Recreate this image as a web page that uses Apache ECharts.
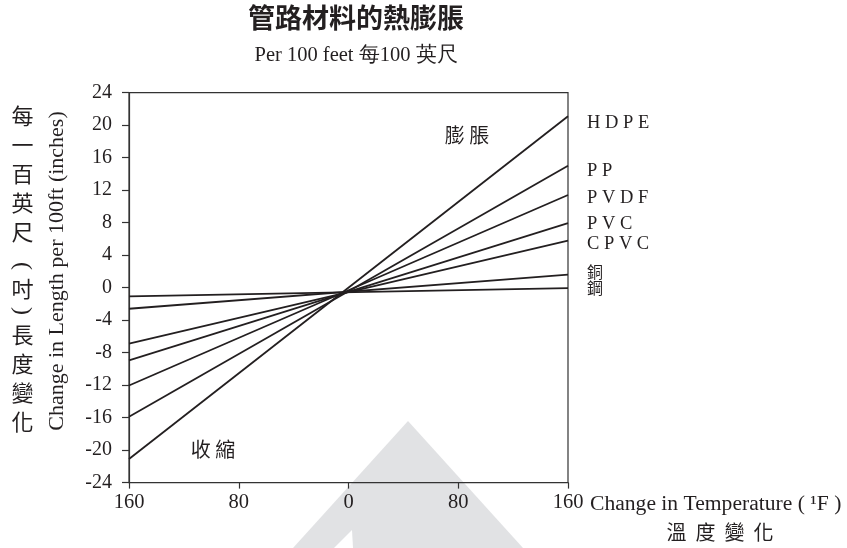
<!DOCTYPE html>
<html><head><meta charset="utf-8">
<script src="https://cdn.jsdelivr.net/npm/echarts@6/dist/echarts.min.js"></script>
<style>html,body{margin:0;padding:0;background:#fff}#c{width:847px;height:548px}</style>
</head><body><div id="c"></div>
<script>
const materials = ['HDPE', 'PP', 'PVDF', 'PVC', 'CPVC', '銅', '鋼'];
const materialLabels = ['H D P E', 'P P', 'P V D F', 'P V C', 'C P V C', '銅', '鋼'];
const tempStart = -160;
const tempEnd = 160;
const changeAtStart = [-21.1, -15.9, -12.05, -8.95, -6.9, -2.6, -1.07];
const changeAtEnd = [21.1, 15.0, 11.4, 7.95, 5.8, 1.6, -0.05];
const labelShiftY = [6.7, 5.7, 2.7, 0.7, 4, -2.3, 0.3];
const xTickLabels = ['160', '80', '0', '80', '160'];
const titleText = '管路材料的熱膨脹';
const subtitleText = 'Per 100 feet 每100 英尺';
const yNameCjk = ['每', '一', '百', '英', '尺', '(', '吋', ')', '長', '度', '變', '化'];

const SERIF = '"Liberation Serif","Times New Roman",serif';
const CJK = '"Noto Sans CJK TC","Noto Sans CJK SC",sans-serif';
const INK = '#231f20';
const AX = '#333';

const chart = echarts.init(document.getElementById('c'), null, {renderer: 'canvas'});

const series = materials.map((m, i) => {
  const cjk = /[\u4e00-\u9fff]/.test(m);
  return {
    name: m,
    type: 'line',
    symbol: 'none',
    silent: true,
    z: 3,
    lineStyle: {color: INK, width: 1.8},
    data: [[tempStart, changeAtStart[i]], [tempEnd, changeAtEnd[i]]],
    endLabel: {
      show: true,
      formatter: () => materialLabels[i],
      distance: 19,
      offset: [0, labelShiftY[i]],
      color: INK,
      fontFamily: cjk ? CJK : SERIF,
      fontSize: cjk ? 16 : 18.5
    }
  };
});

const columnY = [116, 145, 174, 203, 232, 266, 289, 311, 335, 364, 393, 422];
const cjkColumn = yNameCjk.map((ch, i) => {
  const paren = ch === '(' || ch === ')';
  return {
    type: 'text', x: 22.5, y: columnY[i],
    rotation: paren ? -Math.PI / 2 : 0,
    style: {text: ch, font: (paren ? '24px ' + SERIF : '22px ' + CJK), fill: INK, textAlign: 'center', textVerticalAlign: 'middle'}
  };
});

const option = {
  animation: false,
  backgroundColor: '#fff',
  grid: {left: 129, right: 279, top: 92.7, bottom: 65.4, show: true, borderColor: AX, borderWidth: 1.2, backgroundColor: 'transparent'},
  xAxis: {
    type: 'value', min: tempStart, max: tempEnd, interval: 80,
    axisLine: {show: true, onZero: false, lineStyle: {color: AX, width: 1.2}},
    axisTick: {show: true, length: 6, lineStyle: {color: AX, width: 1.2}},
    splitLine: {show: false},
    axisLabel: {
      color: INK, fontFamily: SERIF, fontSize: 20.5, margin: 10,
      formatter: v => xTickLabels[Math.round((v - tempStart) / 80)]
    },
    name: 'Change in Temperature ( ¹F )',
    nameLocation: 'end', nameGap: 22,
    nameTextStyle: {color: INK, fontFamily: SERIF, fontSize: 21.6, verticalAlign: 'top', padding: [11, 0, 0, 0]}
  },
  yAxis: {
    type: 'value', min: -24, max: 24, interval: 4,
    axisLine: {show: true, onZero: false, lineStyle: {color: AX, width: 1.2}},
    axisTick: {show: true, length: 7, lineStyle: {color: AX, width: 1.2}},
    splitLine: {show: false},
    axisLabel: {color: INK, fontFamily: SERIF, fontSize: 20, margin: 17}
  },
  graphic: [
    {type: 'polygon', z: -10, silent: true, shape: {points: [[293, 548], [408, 421], [523, 548]]}, style: {fill: '#e1e2e4'}},
    {type: 'polygon', z: -9, silent: true, shape: {points: [[352, 530], [334, 548], [353, 548]]}, style: {fill: '#fff'}},
    {type: 'text', x: 356, y: 18, style: {text: titleText, font: 'bold 27px ' + CJK, fill: INK, textAlign: 'center', textVerticalAlign: 'middle'}},
    {type: 'text', x: 356, y: 56, style: {text: subtitleText, font: '20.5px ' + SERIF, fill: INK, textAlign: 'center', textVerticalAlign: 'middle'}},
    {type: 'text', x: 57, y: 271, rotation: Math.PI / 2, style: {text: 'Change in Length per 100ft (inches)', font: '22px ' + SERIF, fill: INK, textAlign: 'center', textVerticalAlign: 'middle'}},
    ...cjkColumn,
    {type: 'text', x: 720, y: 532, style: {text: '溫  度  變  化', font: '20px ' + CJK, fill: INK, textAlign: 'center', textVerticalAlign: 'middle'}},
    {type: 'text', x: 467, y: 135, style: {text: '膨 脹', font: '20px ' + CJK, fill: INK, textAlign: 'center', textVerticalAlign: 'middle'}},
    {type: 'text', x: 213, y: 449, style: {text: '收 縮', font: '20px ' + CJK, fill: INK, textAlign: 'center', textVerticalAlign: 'middle'}}
  ],
  series: series
};
chart.setOption(option);
</script>
</body></html>
